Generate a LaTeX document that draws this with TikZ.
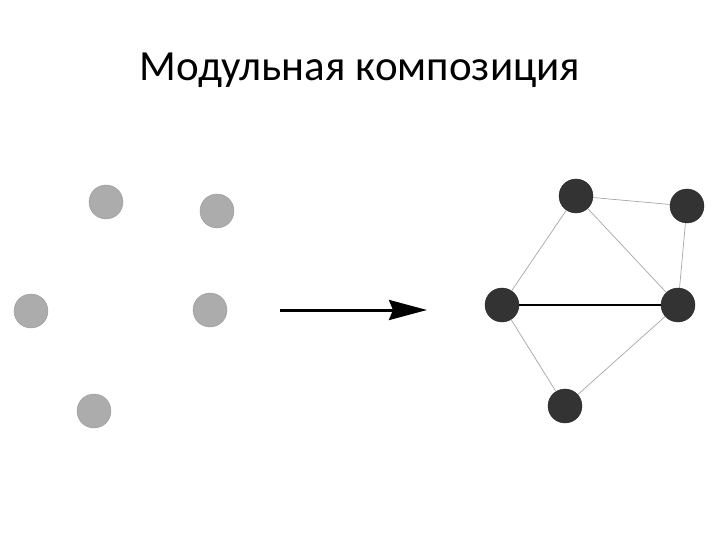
\documentclass[tikz,border=0pt]{standalone}
\usepackage{fontspec}
\setmainfont{Carlito}
\usetikzlibrary{arrows.meta}
\begin{document}
\begin{tikzpicture}[x=1pt,y=-1pt,
  gnode/.style={circle,fill=gray!65!white,draw=gray!80,minimum size=34pt,inner sep=0pt},
  dnode/.style={circle,fill=black!80,draw=black!85,minimum size=34pt,inner sep=0pt},
  edge/.style={draw=gray!70,line width=0.7pt}]
\useasboundingbox (0,0) rectangle (720,540);
\node[font=\fontsize{43}{50}\selectfont] (t) at (360,70) {Модульная композиция};
\node[gnode] (g1) at (106,202) {};
\node[gnode] (g2) at (217,211) {};
\node[gnode] (g3) at (31,311) {};
\node[gnode] (g4) at (210,310) {};
\node[gnode] (g5) at (94,411) {};
\coordinate (a1) at (280,310);
\coordinate (a2) at (427,310);
\draw[line width=3pt,-{Stealth[length=38pt,width=20pt,inset=4pt]}] (a1) -- (a2);
\node[dnode] (d1) at (576,196) {};
\node[dnode] (d2) at (687,206) {};
\node[dnode] (d3) at (502,305) {};
\node[dnode] (d4) at (678,305) {};
\node[dnode] (d5) at (565,406) {};
\draw[edge] (d1) -- (d2);
\draw[edge] (d2) -- (d4);
\draw[edge] (d1) -- (d3);
\draw[edge] (d1) -- (d4);
\draw[black,line width=1.5pt] (d3) -- (d4);
\draw[edge] (d3) -- (d5);
\draw[edge] (d5) -- (d4);
\end{tikzpicture}
\end{document}
